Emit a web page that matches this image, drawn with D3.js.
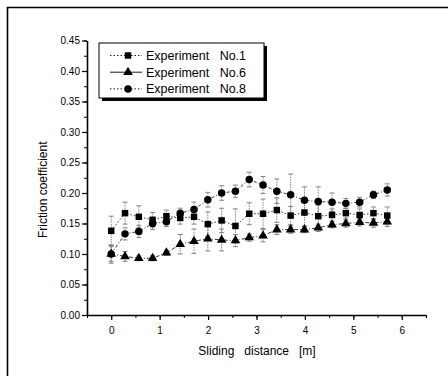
<!DOCTYPE html>
<html lang="en">
  <head>
    <meta charset="UTF-8" />
    <title>Friction coefficient</title>
    <style>
      body {
        margin: 0;
        background: #fff;
      }
      svg text {
        font-family: "Liberation Sans", Arial, sans-serif;
        fill: #000;
      }
    </style>
  </head>
  <body>
    <svg id="svg" width="448" height="383"></svg>
    <script src="https://cdn.jsdelivr.net/npm/d3@7"></script>
    <script>
      // DATA
      const distance = [
        0, 0.285, 0.57, 0.855, 1.14, 1.425, 1.71, 1.995, 2.28, 2.565, 2.85,
        3.135, 3.42, 3.705, 3.99, 4.275, 4.56, 4.845, 5.13, 5.415, 5.7,
      ];
      const exp1 = [
        0.138, 0.167, 0.161, 0.156, 0.162, 0.159, 0.161, 0.149, 0.155, 0.146,
        0.166, 0.166, 0.172, 0.163, 0.168, 0.162, 0.164, 0.167, 0.164, 0.167,
        0.163,
      ];
      const exp1Err = [
        0.024, 0.018, 0.018, 0.012, 0.01, 0.01, 0.012, 0.02, 0.02, 0.028,
        0.018, 0.024, 0.02, 0.015, 0.022, 0.018, 0.01, 0.008, 0.01, 0.01,
        0.014,
      ];
      const exp6 = [
        0.1, 0.096, 0.093, 0.093, 0.102, 0.116, 0.121, 0.125, 0.123, 0.122,
        0.127, 0.13, 0.14, 0.14, 0.14, 0.143, 0.148, 0.15, 0.152, 0.151, 0.153,
      ];
      const exp6Err = [
        0.015, 0.008, 0.004, 0.004, 0.004, 0.016, 0.02, 0.02, 0.018, 0.01,
        0.006, 0.01, 0.008, 0.006, 0.005, 0.006, 0.005, 0.006, 0.006, 0.007,
        0.008,
      ];
      const exp8 = [
        0.1, 0.133, 0.137, 0.15, 0.153, 0.167, 0.173, 0.189, 0.2, 0.203, 0.222,
        0.213, 0.203, 0.197, 0.188, 0.186, 0.185, 0.183, 0.185, 0.197, 0.205,
      ];
      const exp8Err = [
        0.012, 0.01, 0.01, 0.01, 0.008, 0.008, 0.012, 0.012, 0.012, 0.01,
        0.012, 0.014, 0.02, 0.034, 0.022, 0.024, 0.015, 0.008, 0.008, 0.006,
        0.01,
      ];
      const xTicks = [0, 1, 2, 3, 4, 5, 6];
      const yTicks = [0, 0.05, 0.1, 0.15, 0.2, 0.25, 0.3, 0.35, 0.4, 0.45];
      const legendLabels = [
        "Experiment\u00a0\u00a0\u00a0No.1",
        "Experiment\u00a0\u00a0\u00a0No.6",
        "Experiment\u00a0\u00a0\u00a0No.8",
      ];

      // CONSTANTS
      const LEFT = 87;
      const RIGHT = 426;
      const TOP = 40.5;
      const BOTTOM = 315;

      const svg = d3.select("#svg");

      // frame round the figure (top and left edges only visible)
      svg
        .append("path")
        .attr("d", "M7.5,376 V7.5 H448")
        .attr("fill", "none")
        .attr("stroke", "#000")
        .attr("stroke-width", 1.6);

      const x = d3.scaleLinear().domain([-0.5, 6.5]).range([LEFT, RIGHT]);
      const y = d3.scaleLinear().domain([0, 0.45]).range([BOTTOM, TOP]);

      // minor ticks
      svg
        .append("g")
        .attr("transform", `translate(0,${BOTTOM})`)
        .call(
          d3
            .axisBottom(x)
            .tickValues(d3.range(-0.5, 6.51, 0.5))
            .tickSize(3)
            .tickFormat("")
        )
        .call((g) => g.select(".domain").remove());
      svg
        .append("g")
        .attr("transform", `translate(${LEFT},0)`)
        .call(
          d3
            .axisLeft(y)
            .tickValues(d3.range(0, 0.451, 0.025))
            .tickSize(3)
            .tickFormat("")
        )
        .call((g) => g.select(".domain").remove());

      // major axes
      const xAxis = svg
        .append("g")
        .attr("transform", `translate(0,${BOTTOM})`)
        .call(
          d3
            .axisBottom(x)
            .tickValues(xTicks)
            .tickSize(5)
            .tickSizeOuter(0)
            .tickFormat(d3.format("d"))
        );
      const yAxis = svg
        .append("g")
        .attr("transform", `translate(${LEFT},0)`)
        .call(
          d3
            .axisLeft(y)
            .tickValues(yTicks)
            .tickSize(5)
            .tickSizeOuter(0)
            .tickFormat(d3.format(".2f"))
        );
      [xAxis, yAxis].forEach((g) => {
        g.select(".domain").attr("stroke-width", 1.6);
        g.selectAll(".tick line").attr("stroke-width", 1.2);
        g.selectAll("text").style("font-size", "10px");
      });
      xAxis.selectAll("text").attr("dy", "1.1em");
      yAxis.selectAll("text").attr("x", -7);

      svg
        .append("text")
        .attr("x", 257)
        .attr("y", 355)
        .attr("text-anchor", "middle")
        .style("font-size", "12px")
        .text("Sliding\u00a0\u00a0\u00a0distance\u00a0\u00a0\u00a0[m]");
      svg
        .append("text")
        .attr("transform", `translate(47,${(TOP + BOTTOM) / 2 + 12}) rotate(-90)`)
        .attr("text-anchor", "middle")
        .style("font-size", "12px")
        .text("Friction coefficient");

      const series = [
        { values: exp1, err: exp1Err, symbol: d3.symbolSquare, size: 42, dash: "1.5,2" },
        { values: exp6, err: exp6Err, symbol: d3.symbolTriangle, size: 40, dash: "4,2,1,2" },
        { values: exp8, err: exp8Err, symbol: d3.symbolCircle, size: 44, dash: "3,2,1,2" },
      ];

      const plot = svg.append("g");

      // error bars
      series.forEach((s) => {
        const eb = plot.append("g").attr("stroke", "#777").attr("stroke-width", 0.9);
        s.values.forEach((v, i) => {
          const cx = x(distance[i]);
          eb.append("line")
            .attr("x1", cx).attr("x2", cx)
            .attr("y1", y(v - s.err[i])).attr("y2", y(v + s.err[i]))
            .attr("stroke-dasharray", "1.5,1");
          [v - s.err[i], v + s.err[i]].forEach((e) => {
            eb.append("line")
              .attr("x1", cx - 2.5).attr("x2", cx + 2.5)
              .attr("y1", y(e)).attr("y2", y(e));
          });
        });
      });

      // lines and markers
      const line = d3.line().x((d, i) => x(distance[i])).y((d) => y(d));
      series.forEach((s) => {
        plot
          .append("path")
          .datum(s.values)
          .attr("d", line)
          .attr("fill", "none")
          .attr("stroke", "#222")
          .attr("stroke-width", 0.9)
          .attr("stroke-dasharray", s.dash);
        plot
          .append("g")
          .selectAll("path")
          .data(s.values)
          .enter()
          .append("path")
          .attr("d", d3.symbol().type(s.symbol).size(s.size))
          .attr("transform", (d, i) => `translate(${x(distance[i])},${y(d)})`)
          .attr("fill", "#000");
      });

      // legend
      const legend = svg.append("g").attr("transform", "translate(99,43)");
      legend
        .append("rect")
        .attr("x", 3)
        .attr("y", 3)
        .attr("width", 165)
        .attr("height", 55)
        .attr("fill", "#000");
      legend
        .append("rect")
        .attr("width", 165)
        .attr("height", 55)
        .attr("fill", "#fff")
        .attr("stroke", "#000")
        .attr("stroke-width", 1);
      const legendDash = ["1.5,2", null, "1.5,2"];
      legendLabels.forEach((label, i) => {
        const ly = 12.5 + i * 16.7;
        legend
          .append("line")
          .attr("x1", 11).attr("x2", 43)
          .attr("y1", ly).attr("y2", ly)
          .attr("stroke", "#000")
          .attr("stroke-width", 0.9)
          .attr("stroke-dasharray", legendDash[i]);
        legend
          .append("path")
          .attr("d", d3.symbol().type(series[i].symbol).size(series[i].size)())
          .attr("transform", `translate(29,${ly})`)
          .attr("fill", "#000");
        legend
          .append("text")
          .attr("x", 47)
          .attr("y", ly + 4.5)
          .style("font-size", "12.5px")
          .text(label);
      });
    </script>
  </body>
</html>
